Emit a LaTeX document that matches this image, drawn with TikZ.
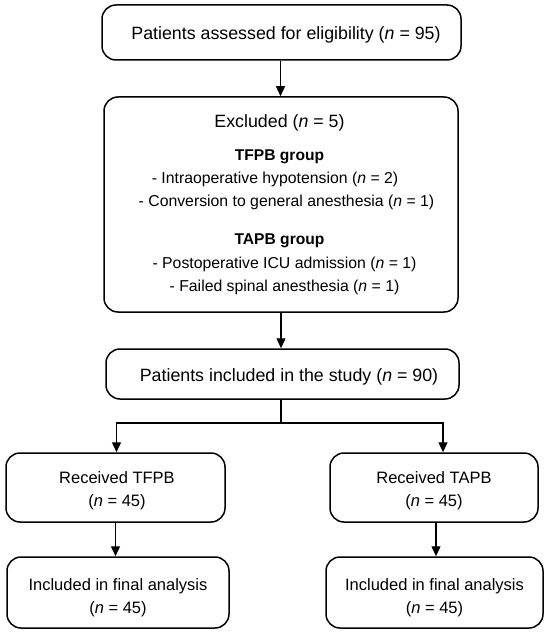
\documentclass[tikz,border=0pt]{standalone}
\usepackage{fontspec}
\setmainfont{Liberation Sans}
\usetikzlibrary{arrows.meta}
\begin{document}
\begin{tikzpicture}[x=1pt,y=-1pt,
  box/.style={draw, line width=1.5pt, rounded corners=14pt, inner sep=0pt},
  arr/.style={line width=1.4pt, -{Triangle[length=10pt,width=9pt]}},
  ln/.style={line width=1.4pt},
  big/.style={inner sep=0pt, font=\fontsize{17.8}{21}\selectfont},
  mid/.style={inner sep=0pt, align=center, font=\fontsize{16.5}{23}\selectfont},
  lst/.style={inner sep=0pt, font=\fontsize{15.8}{19}\selectfont},
  hdr/.style={inner sep=0pt, font=\fontsize{15.6}{19}\selectfont\bfseries}]
\useasboundingbox (0,0) rectangle (550,636);
\fill[white] (0,0) rectangle (550,636);

% boxes
\node[box, minimum width=359pt, minimum height=55pt] (top) at (281.5,32.5) {};
\node[box, minimum width=354pt, minimum height=215pt] (ex) at (281,204.5) {};
\node[box, minimum width=353pt, minimum height=50pt] (inc) at (282.5,374) {};
\node[box, minimum width=219pt, minimum height=69pt] (L1) at (115.5,487.5) {};
\node[box, minimum width=208pt, minimum height=69pt] (R1) at (434,487.5) {};
\node[box, minimum width=222pt, minimum height=71pt] (L2) at (118,592.5) {};
\node[box, minimum width=217pt, minimum height=71pt] (R2) at (434.5,592.5) {};

% texts
\node[big] (topt) at (286,35) {Patients assessed for eligibility (\textit{n} = 95)};
\node[big] (ex1) at (279.5,122.5) {Excluded (\textit{n} = 5)};
\node[hdr] (ex2) at (279.5,156.5) {TFPB group};
\node[lst] (ex3) at (275,179) {- Intraoperative hypotension (\textit{n} = 2)};
\node[lst] (ex4) at (286.5,202.5) {- Conversion to general anesthesia (\textit{n} = 1)};
\node[hdr] (ex5) at (279.5,240.5) {TAPB group};
\node[lst] (ex6) at (284.5,264.5) {- Postoperative ICU admission (\textit{n} = 1)};
\node[lst] (ex7) at (284.5,287.5) {- Failed spinal anesthesia (\textit{n} = 1)};
\node[big] (inct) at (289,377) {Patients included in the study (\textit{n} = 90)};
\node[mid] (L1t) at (117,490.5) {Received TFPB\\(\textit{n} = 45)};
\node[mid] (R1t) at (434,490.5) {Received TAPB\\(\textit{n} = 45)};
\node[mid] (L2t) at (118,597.5) {Included in final analysis\\(\textit{n} = 45)};
\node[mid] (R2t) at (434.5,597.5) {Included in final analysis\\(\textit{n} = 45)};

% connectors
\coordinate (sp) at (281,423);
\coordinate (spL) at (116.5,423);
\coordinate (spR) at (443,423);

\draw[arr] ([xshift=-1pt]top.south) -- ([xshift=-1pt]top.south |- ex.north);
\draw[arr] (ex.south) -- (ex.south |- inc.north);
\draw[ln] ([xshift=-1.5pt]inc.south) -- (sp);
\draw[ln, line cap=rect] (spL) -- (spR);
\draw[arr] (spL) -- (spL |- L1.north);
\draw[arr] (spR) -- (spR |- R1.north);
\draw[arr] (L1.south) -- (L1.south |- L2.north);
\draw[arr] ([xshift=2pt]R1.south) -- ([xshift=2pt]R1.south |- R2.north);
\end{tikzpicture}
\end{document}
